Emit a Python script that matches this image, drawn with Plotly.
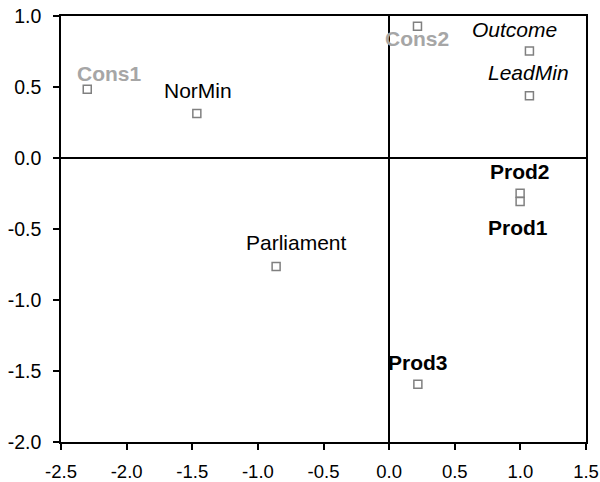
import plotly.graph_objects as go

names = ["Cons1", "NorMin", "Cons2", "Outcome", "LeadMin", "Prod2", "Prod1", "Parliament", "Prod3"]
xs = [-2.30, -1.465, 0.216, 1.069, 1.069, 0.998, 0.998, -0.861, 0.219]
ys = [0.485, 0.314, 0.928, 0.754, 0.438, -0.248, -0.307, -0.764, -1.593]

x_tickvals = [-2.5, -2.0, -1.5, -1.0, -0.5, 0.0, 0.5, 1.0, 1.5]
x_ticktext = ["-2.5", "-2.0", "-1.5", "-1.0", "-0.5", "0.0", "0.5", "1.0", "1.5"]
y_tickvals = [-2.0, -1.5, -1.0, -0.5, 0.0, 0.5, 1.0]
y_ticktext = ["-2.0", "-1.5", "-1.0", "-0.5", "0.0", "0.5", "1.0"]

# label styling: (color, bold, italic, xshift, yshift)
styles = {
    "Cons1": ("#a6a6a6", True, False, 22, 16),
    "NorMin": ("#000000", False, False, 1, 23),
    "Cons2": ("#a6a6a6", True, False, 0, -12),
    "Outcome": ("#000000", False, True, -15, 21),
    "LeadMin": ("#000000", False, True, -1, 23),
    "Prod2": ("#000000", True, False, 0, 22),
    "Prod1": ("#000000", True, False, -2, -26),
    "Parliament": ("#000000", False, False, 20, 24),
    "Prod3": ("#000000", True, False, 0, 22),
}

FONT = "Liberation Sans, Arial, Helvetica, sans-serif"

fig = go.Figure()
fig.add_trace(go.Scatter(
    x=xs, y=ys, mode="markers",
    marker=dict(symbol="square-open", size=8, color="#808080", line=dict(width=1.5, color="#808080")),
    hoverinfo="text", text=names, showlegend=False,
))

for n, x, y in zip(names, xs, ys):
    color, bold, italic, dx, dy = styles[n]
    t = n
    if bold:
        t = "<b>" + t + "</b>"
    if italic:
        t = "<i>" + t + "</i>"
    fig.add_annotation(x=x, y=y, text=t, showarrow=False, xshift=dx, yshift=dy,
                       font=dict(family=FONT, size=21, color=color))

axis_common = dict(
    showgrid=False, showline=True, mirror=True, linecolor="black", linewidth=1.5,
    zeroline=True, zerolinecolor="black", zerolinewidth=1.5,
    ticks="outside", ticklen=6, tickwidth=1.5, tickcolor="black",
    tickmode="array", automargin=False,
)

fig.update_xaxes(range=[-2.5, 1.5], tickvals=x_tickvals, ticktext=x_ticktext,
                 ticklabelstandoff=6,
                 tickfont=dict(family=FONT, size=18.5, color="black"), **axis_common)
fig.update_yaxes(range=[-2.0, 1.0], tickvals=y_tickvals, ticktext=y_ticktext,
                 ticklabelstandoff=8,
                 tickfont=dict(family=FONT, size=19.5, color="black"), **axis_common)

fig.update_layout(
    width=600, height=482,
    margin=dict(l=61, r=14, t=16, b=40),
    paper_bgcolor="white", plot_bgcolor="white",
    font=dict(family=FONT),
)

fig.write_html("out.html", config={"displayModeBar": False},
               post_script="document.body.style.margin='0';document.body.style.overflow='hidden';")
